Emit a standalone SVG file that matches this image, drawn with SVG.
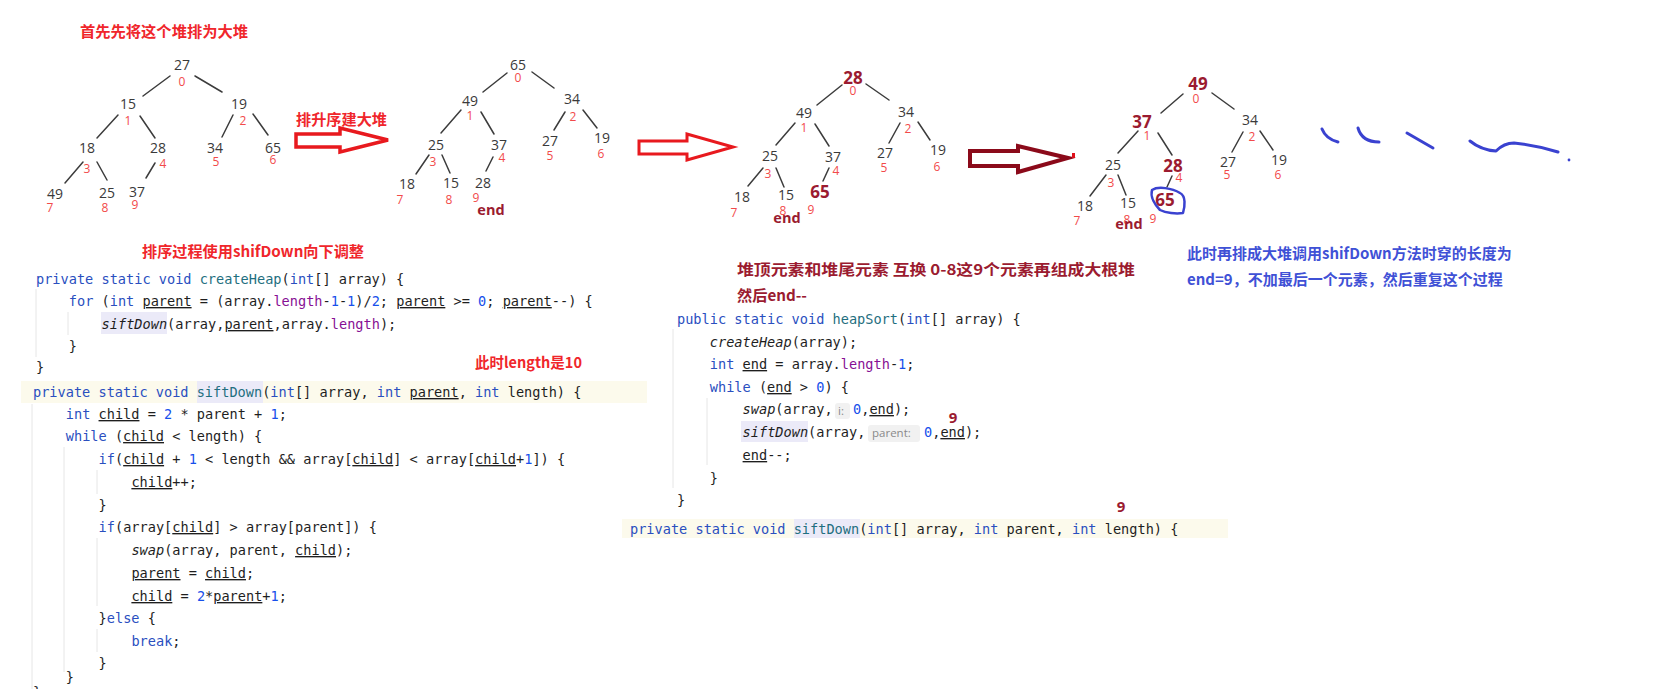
<svg xmlns="http://www.w3.org/2000/svg" width="1670" height="689" viewBox="0 0 1670 689">
<style>
.bg{fill:#ffffff}
.num{font-family:"Open Sans","Noto Sans",sans-serif;font-size:14px;fill:#3a3a3a;text-anchor:middle}
.idx{font-family:"Open Sans","Noto Sans",sans-serif;font-size:12px;fill:#f24a4a;text-anchor:middle}
.hot{font-family:"Open Sans","Noto Sans",sans-serif;font-size:17px;font-weight:bold;fill:#9b1b30;text-anchor:middle}
.end{font-family:"Open Sans","Noto Sans",sans-serif;font-size:14.5px;font-weight:bold;fill:#9b1b30;text-anchor:middle}
.edge{stroke:#3c3c3c;stroke-width:1.5;fill:none;stroke-linecap:round}
.note{font-family:"Noto Sans CJK SC","Noto Sans",sans-serif;font-size:15px;font-weight:bold}
.red{fill:#f0262b}
.dred{fill:#9b1b30}
.blue{fill:#3f51d6}
.c{font-family:"DejaVu Sans Mono","Liberation Mono",monospace;font-size:13.6px;fill:#1e1e1e}
.k{fill:#2a4fbf}
.m{fill:#1f6f80}
.n{fill:#1750eb}
.f{fill:#871094}
.u{text-decoration:underline}
.i{font-style:italic}
.guide{stroke:#e6e6e6;stroke-width:1}
.hint{fill:#f1f1f1}
.hintt{font-family:"Open Sans","Noto Sans",sans-serif;font-size:11.5px;fill:#8a8a8a}
.sq{stroke:#3a42d0;stroke-width:3;fill:none;stroke-linecap:round;stroke-linejoin:round}
</style>
<rect class="bg" x="0" y="0" width="1670" height="689"/>

<!-- titles / notes -->
<text class="note red" x="80" y="37" textLength="168" lengthAdjust="spacingAndGlyphs">首先先将这个堆排为大堆</text>
<text class="note red" x="296" y="125" textLength="91" lengthAdjust="spacingAndGlyphs">排升序建大堆</text>
<text class="note red" x="142" y="257" textLength="222" lengthAdjust="spacingAndGlyphs">排序过程使用shifDown向下调整</text>
<text class="note red" x="475" y="368" textLength="107" lengthAdjust="spacingAndGlyphs">此时length是10</text>
<text class="note dred" x="737" y="275" textLength="398" lengthAdjust="spacingAndGlyphs">堆顶元素和堆尾元素 互换 0-8这9个元素再组成大根堆</text>
<text class="note dred" x="737" y="301" textLength="70" lengthAdjust="spacingAndGlyphs">然后end--</text>
<text class="note blue" x="1187" y="259">此时再排成大堆调用shifDown方法时穿的长度为</text>
<text class="note blue" x="1187" y="285">end=9，不加最后一个元素，然后重复这个过程</text>

<!-- connectors -->
<g id="connectors">
  <!-- tree 1 -->
  <line class="edge" x1="170" y1="76" x2="143" y2="96"/>
  <line class="edge" x1="195" y1="76" x2="222" y2="92"/>
  <line class="edge" x1="118" y1="115" x2="97" y2="138"/>
  <line class="edge" x1="140" y1="116" x2="155" y2="138"/>
  <line class="edge" x1="233" y1="115" x2="222" y2="137"/>
  <line class="edge" x1="253" y1="114" x2="268" y2="135"/>
  <line class="edge" x1="83" y1="162" x2="65" y2="183"/>
  <line class="edge" x1="97" y1="162" x2="107" y2="180"/>
  <line class="edge" x1="155" y1="163" x2="146" y2="178"/>
  <!-- tree 2 -->
  <line class="edge" x1="507" y1="73" x2="483" y2="92"/>
  <line class="edge" x1="532" y1="72" x2="554" y2="88"/>
  <line class="edge" x1="461" y1="110" x2="441" y2="133"/>
  <line class="edge" x1="481" y1="112" x2="494" y2="134"/>
  <line class="edge" x1="565" y1="112" x2="554" y2="130"/>
  <line class="edge" x1="583" y1="110" x2="597" y2="128"/>
  <line class="edge" x1="429" y1="155" x2="416" y2="174"/>
  <line class="edge" x1="442" y1="155" x2="450" y2="173"/>
  <line class="edge" x1="493" y1="157" x2="486" y2="171"/>
  <!-- tree 3 -->
  <line class="edge" x1="842" y1="85" x2="817" y2="105"/>
  <line class="edge" x1="866" y1="84" x2="889" y2="100"/>
  <line class="edge" x1="795" y1="123" x2="776" y2="145"/>
  <line class="edge" x1="815" y1="124" x2="829" y2="146"/>
  <line class="edge" x1="900" y1="123" x2="889" y2="143"/>
  <line class="edge" x1="918" y1="122" x2="930" y2="140"/>
  <line class="edge" x1="763" y1="168" x2="748" y2="186"/>
  <line class="edge" x1="776" y1="168" x2="784" y2="187"/>
  <line class="edge" x1="829" y1="168" x2="823" y2="181"/>
  <!-- tree 4 -->
  <line class="edge" x1="1183" y1="94" x2="1161" y2="113"/>
  <line class="edge" x1="1212" y1="93" x2="1234" y2="109"/>
  <line class="edge" x1="1138" y1="131" x2="1118" y2="153"/>
  <line class="edge" x1="1158" y1="133" x2="1172" y2="155"/>
  <line class="edge" x1="1243" y1="132" x2="1232" y2="152"/>
  <line class="edge" x1="1260" y1="131" x2="1273" y2="150"/>
  <line class="edge" x1="1106" y1="175" x2="1090" y2="196"/>
  <line class="edge" x1="1118" y1="175" x2="1126" y2="195"/>
  <line class="edge" x1="1172" y1="176" x2="1167" y2="187"/>
  <!-- big outline arrows -->
  <polygon points="296,134 340,134 340,128 388,140 340,152 340,147 296,147" fill="#ffffff" stroke="#e8191e" stroke-width="3.5" stroke-linejoin="miter"/>
  <polygon points="639,141 687,141 687,134 733,147 687,160 687,154 639,154" fill="#ffffff" stroke="#e8191e" stroke-width="3" stroke-linejoin="miter"/>
  <polygon points="970,151 1018,151 1018,146 1068,158 1018,172 1018,166 970,166" fill="#ffffff" stroke="#8b0a1a" stroke-width="4" stroke-linejoin="miter"/>
  <rect x="1072" y="153" width="3" height="5" fill="#e0101a"/>
</g>

<!-- tree 1 -->
<g id="t1-n0"><text class="num" x="182" y="70">27</text><text class="idx" x="182" y="86">0</text></g>
<g id="t1-n1"><text class="num" x="128" y="109">15</text><text class="idx" x="128" y="125">1</text></g>
<g id="t1-n2"><text class="num" x="239" y="109">19</text><text class="idx" x="243" y="125">2</text></g>
<g id="t1-n3"><text class="num" x="87" y="153">18</text><text class="idx" x="87" y="173">3</text></g>
<g id="t1-n4"><text class="num" x="158" y="153">28</text><text class="idx" x="163" y="168">4</text></g>
<g id="t1-n5"><text class="num" x="215" y="153">34</text><text class="idx" x="216" y="166">5</text></g>
<g id="t1-n6"><text class="num" x="273" y="153">65</text><text class="idx" x="273" y="164">6</text></g>
<g id="t1-n7"><text class="num" x="55" y="199">49</text><text class="idx" x="50" y="212">7</text></g>
<g id="t1-n8"><text class="num" x="107" y="198">25</text><text class="idx" x="105" y="212">8</text></g>
<g id="t1-n9"><text class="num" x="137" y="197">37</text><text class="idx" x="135" y="209">9</text></g>

<!-- tree 2 -->
<g id="t2-n0"><text class="num" x="518" y="70">65</text><text class="idx" x="518" y="82">0</text></g>
<g id="t2-n1"><text class="num" x="470" y="106">49</text><text class="idx" x="470" y="120">1</text></g>
<g id="t2-n2"><text class="num" x="572" y="104">34</text><text class="idx" x="573" y="121">2</text></g>
<g id="t2-n3"><text class="num" x="436" y="150">25</text><text class="idx" x="433" y="166">3</text></g>
<g id="t2-n4"><text class="num" x="499" y="150">37</text><text class="idx" x="502" y="162">4</text></g>
<g id="t2-n5"><text class="num" x="550" y="146">27</text><text class="idx" x="550" y="160">5</text></g>
<g id="t2-n6"><text class="num" x="602" y="143">19</text><text class="idx" x="601" y="158">6</text></g>
<g id="t2-n7"><text class="num" x="407" y="189">18</text><text class="idx" x="400" y="204">7</text></g>
<g id="t2-n8"><text class="num" x="451" y="188">15</text><text class="idx" x="449" y="204">8</text></g>
<g id="t2-n9"><text class="num" x="483" y="188">28</text><text class="idx" x="476" y="202">9</text></g>
<g id="t2-end"><text class="end" x="491" y="215">end</text></g>

<!-- tree 3 -->
<g id="t3-n0"><text class="hot" x="853" y="84">28</text><text class="idx" x="853" y="95">0</text></g>
<g id="t3-n1"><text class="num" x="804" y="118">49</text><text class="idx" x="804" y="132">1</text></g>
<g id="t3-n2"><text class="num" x="906" y="117">34</text><text class="idx" x="908" y="133">2</text></g>
<g id="t3-n3"><text class="num" x="770" y="161">25</text><text class="idx" x="768" y="178">3</text></g>
<g id="t3-n4"><text class="num" x="833" y="162">37</text><text class="idx" x="836" y="175">4</text></g>
<g id="t3-n5"><text class="num" x="885" y="158">27</text><text class="idx" x="884" y="172">5</text></g>
<g id="t3-n6"><text class="num" x="938" y="155">19</text><text class="idx" x="937" y="171">6</text></g>
<g id="t3-n7"><text class="num" x="742" y="202">18</text><text class="idx" x="734" y="217">7</text></g>
<g id="t3-n8"><text class="num" x="786" y="200">15</text><text class="idx" x="783" y="215">8</text></g>
<g id="t3-n9"><text class="hot" x="820" y="198">65</text><text class="idx" x="811" y="214">9</text></g>
<g id="t3-end"><text class="end" x="787" y="223">end</text></g>

<!-- tree 4 -->
<g id="t4-n0"><text class="hot" x="1198" y="90">49</text><text class="idx" x="1196" y="103">0</text></g>
<g id="t4-n1"><text class="hot" x="1142" y="128">37</text><text class="idx" x="1147" y="140">1</text></g>
<g id="t4-n2"><text class="num" x="1250" y="125">34</text><text class="idx" x="1252" y="141">2</text></g>
<g id="t4-n3"><text class="num" x="1113" y="170">25</text><text class="idx" x="1111" y="187">3</text></g>
<g id="t4-n4"><text class="hot" x="1173" y="172">28</text><text class="idx" x="1179" y="182">4</text></g>
<g id="t4-n5"><text class="num" x="1228" y="167">27</text><text class="idx" x="1227" y="179">5</text></g>
<g id="t4-n6"><text class="num" x="1279" y="165">19</text><text class="idx" x="1278" y="179">6</text></g>
<g id="t4-n7"><text class="num" x="1085" y="211">18</text><text class="idx" x="1077" y="225">7</text></g>
<g id="t4-n8"><text class="num" x="1128" y="208">15</text><text class="idx" x="1127" y="224">8</text></g>
<g id="t4-n9"><text class="hot" x="1165" y="206">65</text><text class="idx" x="1153" y="223">9</text>
  <path class="sq" style="stroke-width:2.5" d="M1152,190 C1158,186 1172,188 1180,193 C1186,196 1185,206 1183,213 C1176,214 1166,213 1160,210 C1155,205 1150,197 1152,190 Z"/></g>
<g id="t4-end"><text class="end" x="1129" y="229">end</text></g>

<!-- blue squiggles -->
<g id="squiggles">
  <path class="sq" d="M1322,129 Q1326,139 1338,142"/>
  <path class="sq" d="M1358,128 Q1362,142 1379,142"/>
  <path class="sq" d="M1407,133 Q1419,140 1433,148"/>
  <path class="sq" d="M1470,141 Q1481,150 1496,151 Q1504,143 1514,143 Q1536,145 1558,152"/>
  <circle cx="1569" cy="160" r="1.4" fill="#3a42d0"/>
</g>

<!-- left code block -->
<g id="code-left">
  <rect x="21" y="381" width="626" height="22" fill="#fcfaec"/>
  <rect x="101" y="312" width="66" height="22" fill="#ebeaf8"/>
  <rect x="197" y="381" width="66" height="22" fill="#ebeaf8"/>
  <line class="guide" x1="36" y1="289" x2="36" y2="357"/>
  <line class="guide" x1="68" y1="312" x2="68" y2="335"/>
  <line class="guide" x1="32" y1="404" x2="32" y2="689"/>
  <line class="guide" x1="64" y1="447" x2="64" y2="672"/>
  <line class="guide" x1="97" y1="470" x2="97" y2="494"/>
  <line class="guide" x1="97" y1="538" x2="97" y2="606"/>
  <line class="guide" x1="97" y1="629" x2="97" y2="652"/>
  <text class="c" x="36" y="284"><tspan class="k">private static void</tspan> <tspan class="m">createHeap</tspan>(<tspan class="k">int</tspan>[] array) {</text>
  <text class="c" x="68.8" y="306"><tspan class="k">for</tspan> (<tspan class="k">int</tspan> <tspan class="u">parent</tspan> = (array.<tspan class="f">length</tspan>-<tspan class="n">1</tspan>-<tspan class="n">1</tspan>)/<tspan class="n">2</tspan>; <tspan class="u">parent</tspan> &gt;= <tspan class="n">0</tspan>; <tspan class="u">parent</tspan>--) {</text>
  <text class="c" x="101.6" y="329"><tspan class="i">siftDown</tspan>(array,<tspan class="u">parent</tspan>,array.<tspan class="f">length</tspan>);</text>
  <text class="c" x="68.8" y="351">}</text>
  <text class="c" x="36" y="372">}</text>
  <text class="c" x="33" y="397"><tspan class="k">private static void</tspan> <tspan class="m">siftDown</tspan>(<tspan class="k">int</tspan>[] array, <tspan class="k">int</tspan> <tspan class="u">parent</tspan>, <tspan class="k">int</tspan> length) {</text>
  <text class="c" x="65.8" y="419"><tspan class="k">int</tspan> <tspan class="u">child</tspan> = <tspan class="n">2</tspan> * parent + <tspan class="n">1</tspan>;</text>
  <text class="c" x="65.8" y="441"><tspan class="k">while</tspan> (<tspan class="u">child</tspan> &lt; length) {</text>
  <text class="c" x="98.6" y="464"><tspan class="k">if</tspan>(<tspan class="u">child</tspan> + <tspan class="n">1</tspan> &lt; length &amp;&amp; array[<tspan class="u">child</tspan>] &lt; array[<tspan class="u">child</tspan>+<tspan class="n">1</tspan>]) {</text>
  <text class="c" x="131.4" y="487"><tspan class="u">child</tspan>++;</text>
  <text class="c" x="98.6" y="510">}</text>
  <text class="c" x="98.6" y="532"><tspan class="k">if</tspan>(array[<tspan class="u">child</tspan>] &gt; array[parent]) {</text>
  <text class="c" x="131.4" y="555"><tspan class="i">swap</tspan>(array, parent, <tspan class="u">child</tspan>);</text>
  <text class="c" x="131.4" y="578"><tspan class="u">parent</tspan> = <tspan class="u">child</tspan>;</text>
  <text class="c" x="131.4" y="601"><tspan class="u">child</tspan> = <tspan class="n">2</tspan>*<tspan class="u">parent</tspan>+<tspan class="n">1</tspan>;</text>
  <text class="c" x="98.6" y="623">}<tspan class="k">else</tspan> {</text>
  <text class="c" x="131.4" y="646"><tspan class="k">break</tspan>;</text>
  <text class="c" x="98.6" y="668">}</text>
  <text class="c" x="65.8" y="682">}</text>
  <text class="c" x="33" y="697">}</text>
</g>

<!-- right code block -->
<g id="code-right">
  <rect x="741" y="421" width="67" height="21" fill="#ebeaf8"/>
  <line class="guide" x1="673" y1="329" x2="673" y2="488"/>
  <line class="guide" x1="707" y1="398" x2="707" y2="465"/>
  <text class="c" x="677" y="324"><tspan class="k">public static void</tspan> <tspan class="m">heapSort</tspan>(<tspan class="k">int</tspan>[] array) {</text>
  <text class="c" x="709.8" y="347"><tspan class="i">createHeap</tspan>(array);</text>
  <text class="c" x="709.8" y="369"><tspan class="k">int</tspan> <tspan class="u">end</tspan> = array.<tspan class="f">length</tspan>-<tspan class="n">1</tspan>;</text>
  <text class="c" x="709.8" y="392"><tspan class="k">while</tspan> (<tspan class="u">end</tspan> &gt; <tspan class="n">0</tspan>) {</text>
  <text class="c" x="742.6" y="414"><tspan class="i">swap</tspan>(array,</text>
  <rect class="hint" x="835" y="403" width="15" height="16" rx="3"/>
  <text class="hintt" x="838" y="415">i:</text>
  <text class="c" x="853" y="414"><tspan class="n">0</tspan>,<tspan class="u">end</tspan>);</text>
  <text class="c" x="742.6" y="437"><tspan class="i">siftDown</tspan>(array,</text>
  <rect class="hint" x="868" y="425" width="52" height="17" rx="3"/>
  <text class="hintt" x="872" y="437">parent:</text>
  <text class="c" x="924" y="437"><tspan class="n">0</tspan>,<tspan class="u">end</tspan>);</text>
  <text class="c" x="742.6" y="460"><tspan class="u">end</tspan>--;</text>
  <text class="c" x="709.8" y="483">}</text>
  <text class="c" x="677" y="505">}</text>
  <text class="end" x="953" y="423" style="font-size:15px">9</text>
  <text class="end" x="1121" y="512" style="font-size:15px">9</text>
  <rect x="622" y="519" width="606" height="19" fill="#fcfaec"/>
  <rect x="794" y="519" width="66" height="19" fill="#ebeaf8"/>
  <text class="c" x="630" y="534"><tspan class="k">private static void</tspan> <tspan class="m">siftDown</tspan>(<tspan class="k">int</tspan>[] array, <tspan class="k">int</tspan> parent, <tspan class="k">int</tspan> length) {</text>
</g>
</svg>
